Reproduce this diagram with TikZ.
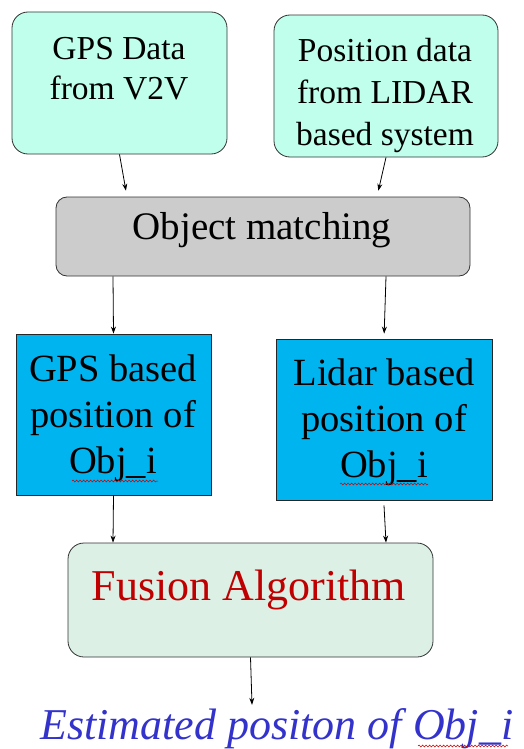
\documentclass[tikz,border=0pt]{standalone}
\usepackage{fontspec}
\setmainfont{Liberation Serif}
\usetikzlibrary{arrows.meta,calc,decorations.pathmorphing}
\definecolor{aquafill}{RGB}{191,255,236}
\definecolor{grayfill}{RGB}{204,204,204}
\definecolor{bluefill}{RGB}{0,180,240}
\definecolor{fusionfill}{RGB}{220,240,230}
\definecolor{fusionred}{RGB}{192,0,0}
\definecolor{estblue}{RGB}{51,51,204}
\begin{document}
\begin{tikzpicture}[x=1pt,y=-1pt,
  roundbox/.style={draw=black!80, line width=0.8pt, rounded corners=16pt, inner sep=0},
  squarebox/.style={draw=black!85, line width=0.8pt, inner sep=0},
  txt/.style={inner sep=0, align=center, anchor=base},
  arr/.style={line width=0.8pt, -{Stealth[length=7pt,width=5pt]}},
  squig/.style={draw=red!80!black, line width=0.5pt, decorate, decoration={snake, amplitude=1pt, segment length=3.5pt}}
]
\useasboundingbox (0,0) rectangle (523,749);

% boxes
\node[roundbox, fill=aquafill, minimum width=215pt, minimum height=142pt] (g1) at (119.5,83) {};
\node[roundbox, fill=aquafill, minimum width=224pt, minimum height=142pt] (l1) at (386,86) {};
\node[roundbox, rounded corners=11pt, fill=grayfill, minimum width=414pt, minimum height=79pt] (om) at (263,236.5) {};
\node[squarebox, fill=bluefill, minimum width=195pt, minimum height=161pt] (gb) at (113.5,414.5) {};
\node[squarebox, fill=bluefill, minimum width=216pt, minimum height=161pt] (lb) at (384,419.5) {};
\node[roundbox, fill=fusionfill, minimum width=365pt, minimum height=114pt] (fu) at (250.5,600) {};

% texts (base anchor = baseline of the last line)
\node[txt, font=\fontsize{33.5}{40}\selectfont] (g1t) at (119,100) {GPS Data\\from V2V};
\node[txt, font=\fontsize{33.5}{41.5}\selectfont] (l1t) at (385,145) {Position data\\from LIDAR\\based system};
\node[txt, font=\fontsize{39}{46}\selectfont] (omt) at (262,239) {Object matching};
\node[txt, font=\fontsize{38.5}{46}\selectfont] (gbt) at (113,473) {GPS based\\position of\\Obj\_i};
\node[txt, font=\fontsize{38.5}{46}\selectfont] (lbt) at (384,477) {Lidar based\\position of\\Obj\_i};
\node[txt, font=\fontsize{44}{50}\selectfont, text=fusionred] (fut) at (249,600) {Fusion Algorithm};
\node[inner sep=0, anchor=base west, font=\fontsize{44}{50}\selectfont\itshape, text=estblue] (est) at (40,739) {Estimated positon of Obj\_i};

% spell-check squiggles
\draw[squig] (72,481) -- (158,481);
\draw[squig] (340,484) -- (428,484);
\draw[squig] (418,746) -- (508,746);

% connectors
\draw[arr, shorten >=6pt] (g1.south) -- ([xshift=-136pt]om.north);
\draw[arr, shorten >=6pt] (l1.south) -- ([xshift=114pt]om.north);
\draw[arr] ([xshift=-150pt]om.south) -- (gb.north);
\draw[arr, shorten >=5pt] ([xshift=123pt]om.south) -- (lb.north);
\draw[arr] (gb.south) -- ([xshift=-137.5pt]fu.north);
\draw[arr] ([yshift=-5pt]lb.south) -- ([xshift=135.5pt]fu.north);
\draw[arr] (fu.south) -- ([xshift=1.5pt,yshift=3pt]est.north -| fu.south);
\end{tikzpicture}
\end{document}
